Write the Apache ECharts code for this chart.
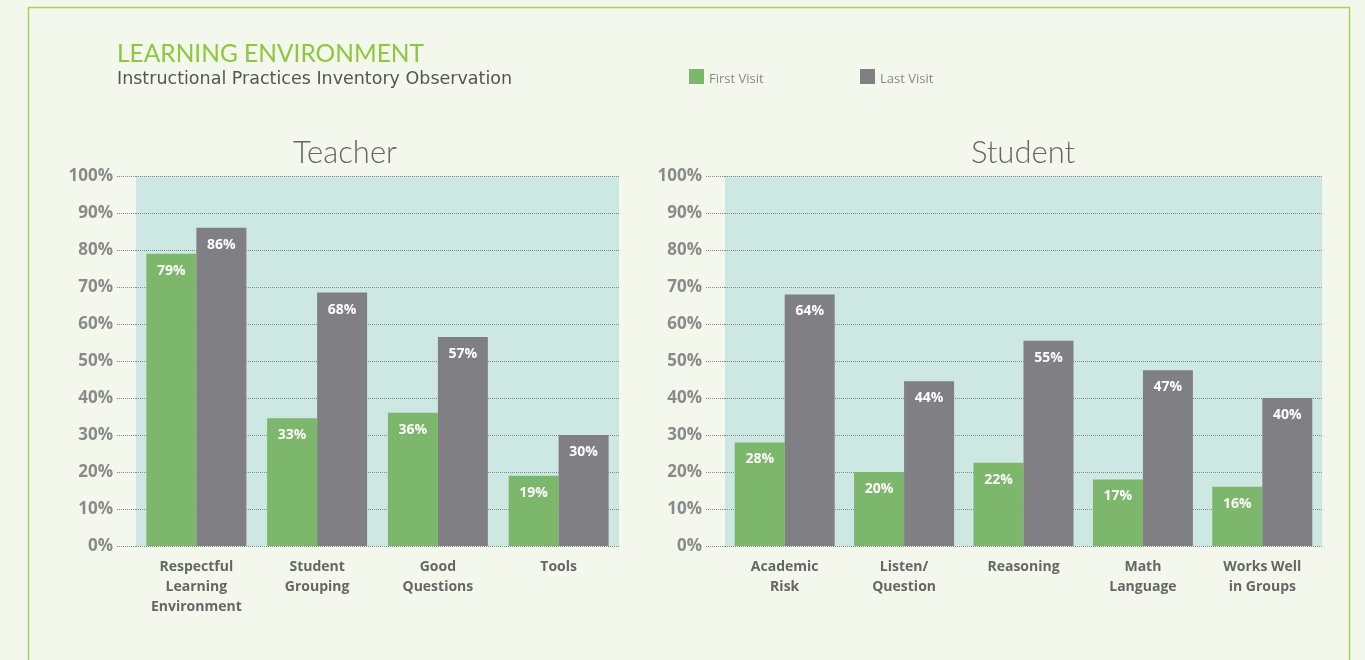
<!DOCTYPE html>
<html>
<head>
<meta charset="utf-8">
<title>Learning Environment</title>
<script src="https://cdn.jsdelivr.net/npm/echarts@6/dist/echarts.min.js"></script>
<style>
  html, body { margin: 0; padding: 0; background: #f4f8ec; }
  #chart { width: 1365px; height: 660px; }
</style>
</head>
<body>
<div id="chart"></div>
<script>
// categories
const teacherCats = ['Respectful\nLearning\nEnvironment', 'Student\nGrouping', 'Good\nQuestions', 'Tools']
const studentCats = ['Academic\nRisk', 'Listen/\nQuestion', 'Reasoning', 'Math\nLanguage', 'Works Well\nin Groups']

// bar heights as drawn (%)
const teacherFirst = [79, 34.5, 36, 19]
const teacherLast = [86, 68.5, 56.5, 30]
const studentFirst = [28, 20, 22.5, 18, 16]
const studentLast = [68, 44.5, 55.5, 47.5, 40]

// printed labels (%)
const teacherFirstLabels = [79, 33, 36, 19]
const teacherLastLabels = [86, 68, 57, 30]
const studentFirstLabels = [28, 20, 22, 17, 16]
const studentLastLabels = [64, 44, 55, 47, 40]

const FONT = '"Open Sans", Lato, sans-serif'
const TITLE_FONT = 'Lato, sans-serif'
const green = '#7db76b'
const gray = '#808084'
const dotted = '#7f8b89'

function yAxis(gridIndex) {
  return {
    type: 'value',
    gridIndex: gridIndex,
    min: 0,
    max: 100,
    interval: 10,
    axisLine: { show: false },
    axisTick: { show: true, length: 19, lineStyle: { color: dotted, type: 'dotted', width: 1 } },
    axisLabel: {
      formatter: '{value}%',
      margin: 23,
      color: '#8a8a8a',
      fontSize: 17,
      fontWeight: 'bold',
      fontFamily: FONT
    },
    splitLine: { show: true, lineStyle: { color: dotted, type: 'dotted', width: 1 } }
  }
}

function xAxis(gridIndex, cats) {
  return {
    type: 'category',
    gridIndex: gridIndex,
    data: cats,
    axisLine: { show: false },
    axisTick: { show: false },
    axisLabel: {
      interval: 0,
      margin: 11,
      color: '#666666',
      fontSize: 14,
      fontWeight: 'bold',
      lineHeight: 20,
      fontFamily: FONT
    }
  }
}

function barSeries(name, axisIndex, values, labels, color) {
  return {
    name: name,
    type: 'bar',
    xAxisIndex: axisIndex,
    yAxisIndex: axisIndex,
    data: values,
    barWidth: 50,
    barGap: '0%',
    itemStyle: { color: color },
    label: {
      show: true,
      position: 'insideTop',
      distance: 10,
      color: '#ffffff',
      fontSize: 14,
      fontWeight: 'bold',
      fontFamily: FONT,
      formatter: p => labels[p.dataIndex] + '%'
    },
    animation: false
  }
}

function legend(name, left) {
  return {
    data: [name], left: left, top: 69, padding: 0,
    icon: 'rect', itemWidth: 15, itemHeight: 15, itemGap: 5,
    formatter: '{t|{name}}',
    textStyle: {
      rich: { t: { color: '#888888', fontSize: 13, fontFamily: FONT, padding: [6, 0, 0, 0] } }
    }
  }
}

const chart = echarts.init(document.getElementById('chart'))
chart.setOption({
  backgroundColor: '#f4f8ec',
  textStyle: { fontFamily: FONT },
  graphic: [
    {
      type: 'rect',
      shape: { x: 28.5, y: 7.5, width: 1321, height: 700 },
      style: { fill: 'none', stroke: '#a8d05a', lineWidth: 1.5 },
      silent: true
    },
    {
      type: 'text', left: 117, top: 42,
      style: { text: 'LEARNING ENVIRONMENT', fill: '#8dc63f', fontSize: 24.5, fontFamily: TITLE_FONT }
    },
    {
      type: 'text', left: 117, top: 70,
      style: { text: 'Instructional Practices Inventory Observation', fill: '#555555', fontSize: 17.5, fontFamily: '"DejaVu Sans", sans-serif' }
    },
    {
      type: 'text', x: 345, y: 153,
      style: { text: 'Teacher', fill: '#666666', fontSize: 31, fontWeight: 300, fontFamily: TITLE_FONT, align: 'center', verticalAlign: 'middle' }
    },
    {
      type: 'text', x: 1023, y: 153,
      style: { text: 'Student', fill: '#666666', fontSize: 31, fontWeight: 300, fontFamily: TITLE_FONT, align: 'center', verticalAlign: 'middle' }
    }
  ],
  legend: [legend('First Visit', 689), legend('Last Visit', 860)],
  grid: [
    { left: 136, width: 483, top: 176, height: 370, show: true, backgroundColor: '#cde8e3', borderWidth: 0 },
    { left: 725, width: 597, top: 176, height: 370, show: true, backgroundColor: '#cde8e3', borderWidth: 0 }
  ],
  xAxis: [xAxis(0, teacherCats), xAxis(1, studentCats)],
  yAxis: [yAxis(0), yAxis(1)],
  series: [
    barSeries('First Visit', 0, teacherFirst, teacherFirstLabels, green),
    barSeries('Last Visit', 0, teacherLast, teacherLastLabels, gray),
    barSeries('First Visit', 1, studentFirst, studentFirstLabels, green),
    barSeries('Last Visit', 1, studentLast, studentLastLabels, gray)
  ]
})
</script>
</body>
</html>
